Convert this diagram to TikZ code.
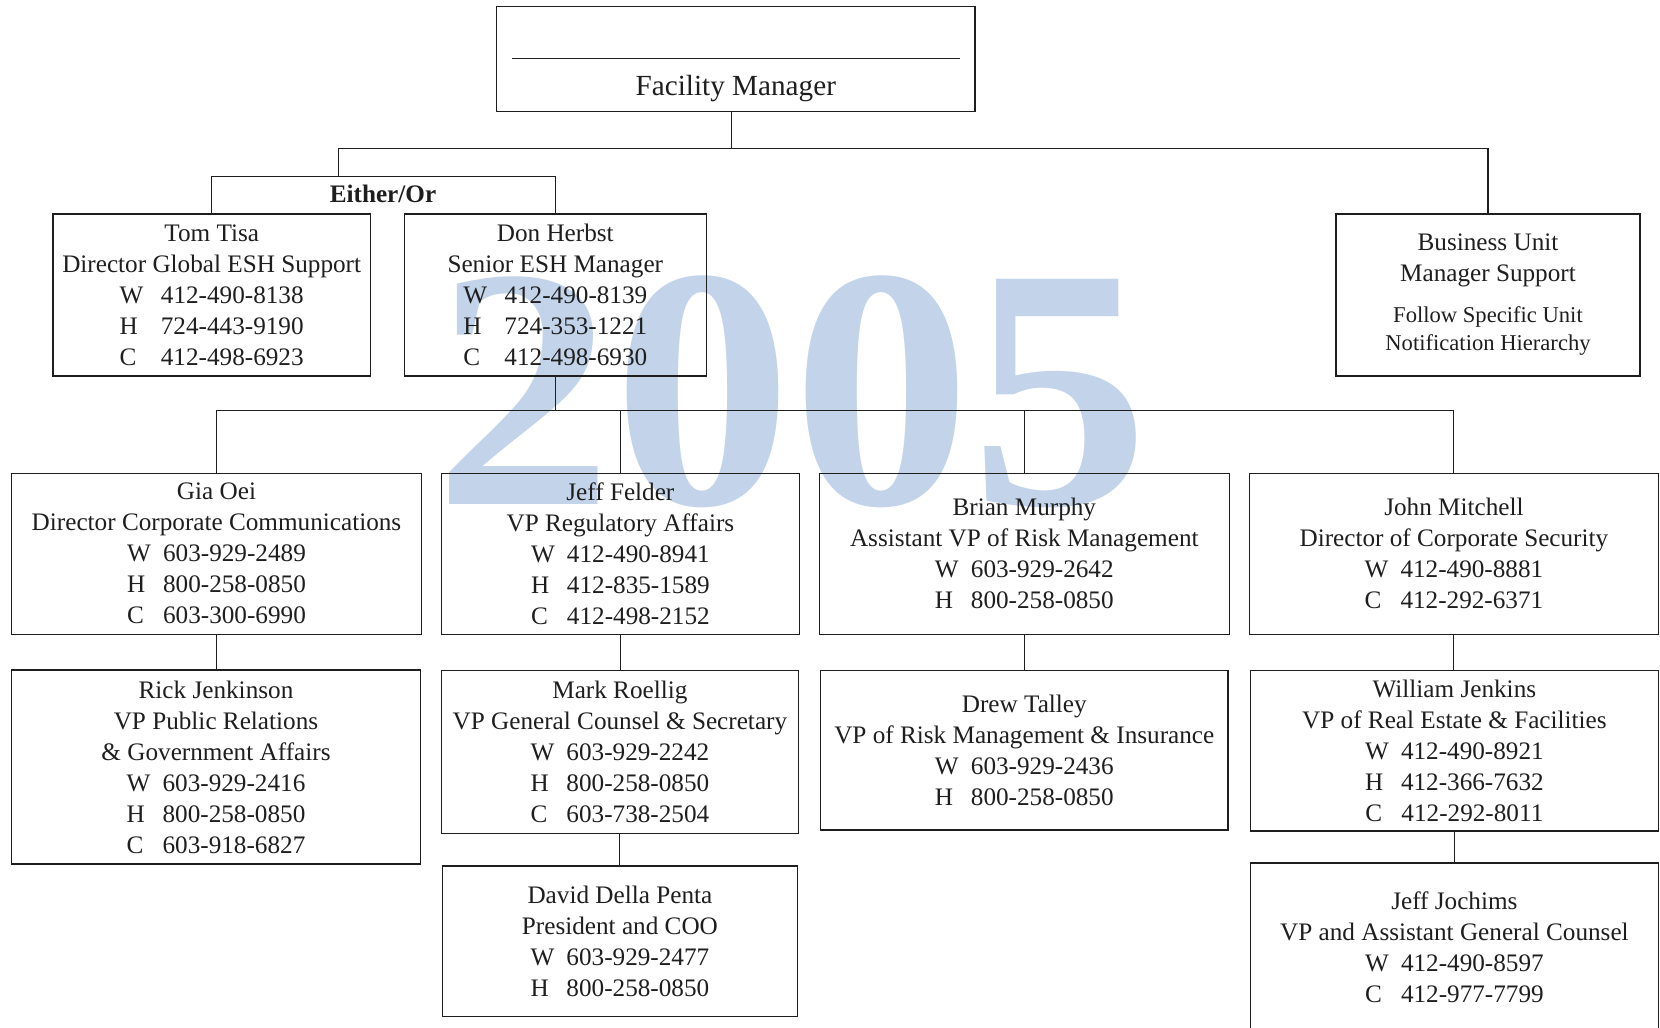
\documentclass[tikz,border=0pt]{standalone}
\usepackage{fontspec}
\setmainfont{Liberation Serif}
\definecolor{wmblue}{RGB}{195,212,234}
\definecolor{inkc}{RGB}{30,30,30}
\newcommand\fsz{\fontsize{12.6}{15.5}\selectfont}
\newcommand\fbu{\fontsize{11.3}{14.3}\selectfont}
\newcommand\phn[3][18pt]{\makebox[#1][l]{#2}#3}
\tikzset{
  orgbox/.style={draw=inkc, line width=0.7pt, align=center, inner sep=0pt, font=\fsz, text=inkc},
  conn/.style={draw=inkc, line width=0.55pt},
  plain/.style={inner sep=0pt, text=inkc},
}
\begin{document}
\begin{tikzpicture}[x=0.5pt,y=-0.5pt]
\useasboundingbox (0,0) rectangle (1660,1028);
% watermark
\node[plain, font=\fontsize{172}{172}\selectfont\bfseries, text=wmblue, anchor=base] (wm) at (792,504) {\scalebox{1.04}[1]{2005}};

% top box
\node[orgbox, minimum width=239.25pt, minimum height=52.4pt] (fm) at (735.8,58.8) {};
\draw[line width=0.6pt, inkc] (512.4,58.2) -- (960.2,58.2);
\node[plain, font=\fontsize{14.6}{17}\selectfont, anchor=base] (fmt) at (735.8,95) {Facility Manager};
\coordinate (fmdrop) at (731.6,111.2);

% second row
\node[orgbox, minimum width=158.8pt, minimum height=80.95pt] (tom) at (211.7,294.9)
  {Tom Tisa\\Director Global ESH Support\\\phn[20.6pt]{W}{412-490-8138}\\\phn[20.6pt]{H}{724-443-9190}\\\phn[20.6pt]{C}{412-498-6923}};
\node[orgbox, minimum width=150.9pt, minimum height=80.95pt] (don) at (555.3,294.9)
  {Don Herbst\\Senior ESH Manager\\\phn[20.6pt]{W}{412-490-8139}\\\phn[20.6pt]{H}{724-353-1221}\\\phn[20.6pt]{C}{412-498-6930}};
\node[orgbox, minimum width=152pt, minimum height=80.95pt] (bu) at (1488,294.9)
  {Business Unit\\Manager Support\\[4.6pt]\fbu Follow Specific Unit\\[-1.2pt]\fbu Notification Hierarchy};
\node[plain, font=\fsz\bfseries, anchor=base] (either) at (383,202) {Either/Or};

% third row
\node[orgbox, minimum width=204.9pt, minimum height=80.5pt] (gia) at (216.5,553.7)
  {Gia Oei\\Director Corporate Communications\\\phn{W}{603-929-2489}\\\phn{H}{800-258-0850}\\\phn{C}{603-300-6990}};
\node[orgbox, minimum width=178.9pt, minimum height=80.5pt] (jf) at (620.4,553.7)
  {Jeff Felder\\VP Regulatory Affairs\\\phn{W}{412-490-8941}\\\phn{H}{412-835-1589}\\\phn{C}{412-498-2152}};
\node[orgbox, minimum width=204.9pt, minimum height=80.5pt] (bm) at (1024.3,553.7)
  {Brian Murphy\\Assistant VP of Risk Management\\\phn{W}{603-929-2642}\\\phn{H}{800-258-0850}};
\node[orgbox, minimum width=204.6pt, minimum height=80.5pt] (jm) at (1453.9,553.7)
  {John Mitchell\\Director of Corporate Security\\\phn{W}{412-490-8881}\\\phn{C}{412-292-6371}};

% fourth row
\node[orgbox, minimum width=204.35pt, minimum height=96.85pt] (rick) at (216,767)
  {Rick Jenkinson\\VP Public Relations\\\& Government Affairs\\\phn{W}{603-929-2416}\\\phn{H}{800-258-0850}\\\phn{C}{603-918-6827}};
\node[orgbox, minimum width=178.35pt, minimum height=81.5pt] (mark) at (619.9,751.7)
  {Mark Roellig\\VP General Counsel \& Secretary\\\phn{W}{603-929-2242}\\\phn{H}{800-258-0850}\\\phn{C}{603-738-2504}};
\node[orgbox, minimum width=203.8pt, minimum height=79.9pt] (drew) at (1024.3,750.1)
  {Drew Talley\\VP of Risk Management \& Insurance\\\phn{W}{603-929-2436}\\\phn{H}{800-258-0850}};
\node[orgbox, minimum width=204.1pt, minimum height=80.4pt] (wj) at (1454.4,750.6)
  {William Jenkins\\VP of Real Estate \& Facilities\\\phn{W}{412-490-8921}\\\phn{H}{412-366-7632}\\\phn{C}{412-292-8011}};

% fifth row
\node[orgbox, minimum width=177.35pt, minimum height=75.2pt] (david) at (619.9,941.2)
  {David Della Penta\\President and COO\\\phn{W}{603-929-2477}\\\phn{H}{800-258-0850}};
\node[orgbox, minimum width=204.1pt, minimum height=84.5pt] (jj) at (1454.4,947.5)
  {Jeff Jochims\\VP and Assistant General Counsel\\\phn{W}{412-490-8597}\\\phn{C}{412-977-7799}};

% connectors
\coordinate (bar) at (0,148.2);
\coordinate (eo) at (338.8,176.8);
\coordinate (bar2) at (0,410.8);
\draw[conn] (fmdrop) -- (fmdrop |- bar);
\draw[conn] (eo) -- (eo |- bar) -- (bu.north |- bar) -- (bu.north);
\draw[conn] (tom.north) -- (tom.north |- eo) -- (don.north |- eo) -- (don.north);
\draw[conn] (don.south) -- (don.south |- bar2);
\draw[conn] (gia.north) -- (gia.north |- bar2) -- (jm.north |- bar2) -- (jm.north);
\draw[conn] (jf.north) -- (jf.north |- bar2);
\draw[conn] (bm.north) -- (bm.north |- bar2);
\draw[conn] (gia.south) -- (gia.south |- rick.north);
\draw[conn] (jf.south) -- (jf.south |- mark.north);
\draw[conn] (bm.south) -- (bm.south |- drew.north);
\draw[conn] (jm.south) -- (jm.south |- wj.north);
\draw[conn] (mark.south) -- (mark.south |- david.north);
\draw[conn] (wj.south) -- (wj.south |- jj.north);
\end{tikzpicture}
\end{document}
